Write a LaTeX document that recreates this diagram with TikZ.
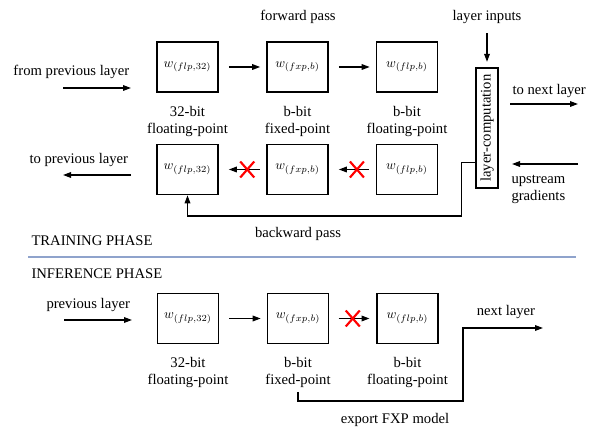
\documentclass[tikz,border=0pt]{standalone}
\usepackage{fontspec}
\setmainfont{Liberation Serif}
\usetikzlibrary{arrows.meta,positioning,calc}

\definecolor{phaseline}{RGB}{143,163,204}

\tikzset{every picture/.style={line width=0.75pt}}
\tikzset{
	txt/.style={inner sep=0.75pt, font=\fontsize{11}{12.5}\selectfont},
	bitlbl/.style={txt, align=center},
	wbox/.style={draw, line width=1.2pt, minimum width=45.75pt, minimum height=37.5pt, inner sep=0pt},
	flow/.style={line width=1pt, -{Triangle[length=6pt,width=4.2pt]}},
	redx/.pic={\draw [red, line width=1.6pt] (-7,-8) -- (7,8) (-7,8) -- (7,-8);}
}

\begin{document}
\begin{tikzpicture}[x=0.75pt,y=0.75pt,yscale=-1]
			\useasboundingbox (0,0) rectangle (589,427);

			\node [wbox] (f1) at (187.5,67) {$w_{(flp,32)}$};
			\node [wbox] (f2) at (297.5,67) {$w_{(fxp,b)}$};
			\node [wbox] (f3) at (407,67) {$w_{(flp,b)}$};
			\node [bitlbl, below=9pt of f1] (f1l) {32-bit\\floating-point};
			\node [bitlbl, below=9pt of f2] (f2l) {b-bit\\fixed-point};
			\node [bitlbl, below=9pt of f3] (f3l) {b-bit\\floating-point};
			\draw [flow, shorten <=7.5pt, shorten >=4.5pt] (f1) -- (f2);
			\draw [flow, shorten <=7.5pt, shorten >=4.5pt] (f2) -- (f3);
			\node [txt] (fwd) at (298,17) {forward pass};

			\node [wbox] (b1) at (187.5,169.5) {$w_{(flp,32)}$};
			\node [wbox] (b2) at (297.5,169.5) {$w_{(fxp,b)}$};
			\node [wbox] (b3) at (407,169.5) {$w_{(flp,b)}$};
			\draw [flow, shorten <=5pt, shorten >=7.5pt] (b2) -- (b1);
			\draw [flow, shorten <=5pt, shorten >=7.5pt] (b3) -- (b2);
			\pic at ($(b1.east)!0.6!(b2.west)$) {redx};
			\pic at ($(b2.east)!0.6!(b3.west)$) {redx};

			\node [draw, line width=1.2pt, minimum width=16.5pt, minimum height=90pt, inner sep=0pt] (lc) at (487,128) {\rotatebox{90}{\fontsize{11}{12.5}\selectfont layer-computation}};
			\node [txt] (inp) at (487,17) {layer inputs};
			\draw [flow, shorten <=6pt, shorten >=4pt] (inp) -- (lc);

			\node [txt, anchor=west] (fpl) at (12,72) {from previous layer};
			\coordinate (fp0) at (63,88);
			\coordinate (fp1) at (131,88);
			\draw [flow] (fp0) -- (fp1);
			\node [txt, anchor=west] (tpl) at (28,160) {to previous layer};
			\coordinate (tp0) at (131,175);
			\coordinate (tp1) at (63,175);
			\draw [flow] (tp0) -- (tp1);
			\node [txt, anchor=west] (tnl) at (511,91) {to next layer};
			\coordinate (tn0) at (510,104);
			\coordinate (tn1) at (578,104);
			\draw [flow] (tn0) -- (tn1);
			\node [txt, anchor=north west, align=left] (ups) at (510,174) {upstream\\gradients};
			\coordinate (up0) at (578,164);
			\coordinate (up1) at (512,164);
			\draw [flow] (up0) -- (up1);

			\draw [flow] ([yshift=26pt]lc.west) -- ++(-14,0) |- (297,216) -| (b1.south);
			\node [txt] (bwd) at (298,234) {backward pass};

			\node [txt, anchor=west] (trn) at (30,241) {TRAINING PHASE};
			\draw [phaseline, line width=1pt] (28,257) -- (576,257);
			\node [txt, anchor=west] (inf) at (30,274) {INFERENCE PHASE};

			\node [wbox] (i1) at (188,318.5) {$w_{(flp,32)}$};
			\node [wbox] (i2) at (298,318.5) {$w_{(fxp,b)}$};
			\node [wbox] (i3) at (407.5,318.5) {$w_{(flp,b)}$};
			\node [bitlbl, below=9pt of i1] (i1l) {32-bit\\floating-point};
			\node [bitlbl, below=9pt of i2] (i2l) {b-bit\\fixed-point};
			\node [bitlbl, below=9pt of i3] (i3l) {b-bit\\floating-point};
			\draw [flow, shorten <=7.5pt, shorten >=4.5pt] (i1) -- (i2);
			\draw [flow, shorten <=7pt, shorten >=5pt] (i2) -- (i3);
			\pic at ($(i2.east)!0.5!(i3.west)$) {redx};
			\node [txt, anchor=west] (prv) at (45,305) {previous layer};
			\coordinate (pv0) at (64,320);
			\coordinate (pv1) at (132,320);
			\draw [flow] (pv0) -- (pv1);

			\coordinate (ex1) at (543,328);
			\draw [flow] ([yshift=2pt]i2l.south) |- (463,401) |- (ex1);
			\node [txt] (nxt) at (506,312) {next layer};
			\node [txt] (exp) at (395,420) {export FXP model};
		\end{tikzpicture}
\end{document}
